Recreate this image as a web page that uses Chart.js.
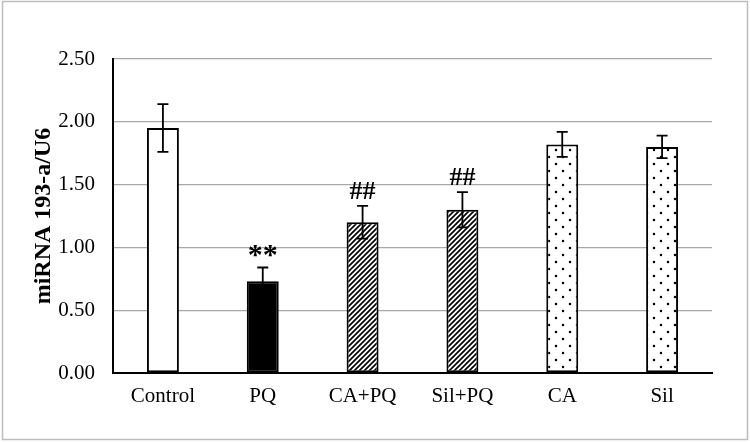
<!DOCTYPE html>
<html><head><meta charset="utf-8">
<script src="https://cdn.jsdelivr.net/npm/chart.js@4.4.0/dist/chart.umd.min.js"></script>
<style>html,body{margin:0;padding:0;background:#fff}#wrap{width:750px;height:442px;position:relative}</style>
</head><body><div id="wrap"><canvas id="c" width="750" height="442"></canvas></div>
<script>
const categories = ['Control', 'PQ', 'CA+PQ', 'Sil+PQ', 'CA', 'Sil'];
const means = [1.95, 0.73, 1.20, 1.30, 1.82, 1.80];
const errors = [0.19, 0.11, 0.13, 0.14, 0.10, 0.09];
const significance = ['', '**', '##', '##', '', ''];
const yTicks = [0, 0.5, 1.0, 1.5, 2.0, 2.5];
const yAxisTitle = 'miRNA 193-a/U6';

function hatchPattern() {
  const s = 5, c = document.createElement('canvas');
  c.width = s; c.height = s;
  const g = c.getContext('2d');
  g.fillStyle = '#fff'; g.fillRect(0, 0, s, s);
  g.strokeStyle = '#000'; g.lineWidth = 1.7;
  g.beginPath();
  g.moveTo(-1, s + 1); g.lineTo(s + 1, -1);
  g.moveTo(-1, 1); g.lineTo(1, -1);
  g.moveTo(s - 1, s + 1); g.lineTo(s + 1, s - 1);
  g.stroke();
  return g.createPattern(c, 'repeat');
}
function dotPattern() {
  const s = 14, c = document.createElement('canvas');
  c.width = s; c.height = s;
  const g = c.getContext('2d');
  g.fillStyle = '#fff'; g.fillRect(0, 0, s, s);
  g.fillStyle = '#000';
  g.beginPath(); g.arc(3, 3, 1.25, 0, Math.PI * 2); g.fill();
  g.beginPath(); g.arc(10, 10, 1.25, 0, Math.PI * 2); g.fill();
  return g.createPattern(c, 'repeat');
}
const hatch = hatchPattern(), dots = dotPattern();
const fills = ['#ffffff', '#000000', hatch, hatch, dots, dots];

const serif = "'Liberation Serif', 'Times New Roman', serif";

const extras = {
  id: 'extras',
  beforeDraw(chart) {
    const ctx = chart.ctx;
    ctx.save(); ctx.fillStyle = '#fff'; ctx.fillRect(0, 0, chart.width, chart.height); ctx.restore();
  },
  afterDatasetsDraw(chart) {
    const ctx = chart.ctx, meta = chart.getDatasetMeta(0), y = chart.scales.y;
    ctx.save();
    ctx.strokeStyle = '#000'; ctx.lineWidth = 1.8;
    meta.data.forEach((bar, i) => {
      const top = y.getPixelForValue(means[i] + errors[i]);
      const bot = y.getPixelForValue(means[i] - errors[i]);
      const half = 5.5;
      ctx.beginPath();
      ctx.moveTo(bar.x, top); ctx.lineTo(bar.x, bot);
      ctx.moveTo(bar.x - half, top); ctx.lineTo(bar.x + half, top);
      ctx.moveTo(bar.x - half, bot); ctx.lineTo(bar.x + half, bot);
      ctx.stroke();
      const label = significance[i];
      if (label) {
        ctx.fillStyle = '#000';
        const isStar = label[0] === '*';
        ctx.font = 'bold ' + (isStar ? 30 : 26) + 'px ' + serif;
        ctx.textAlign = 'center'; ctx.textBaseline = 'alphabetic';
        ctx.fillText(label, bar.x, top - (isStar ? 3 : 7));
      }
    });
    ctx.restore();
  },
  afterDraw(chart) {
    const ctx = chart.ctx;
    ctx.save(); ctx.strokeStyle = '#bdbdbd'; ctx.lineWidth = 1.5;
    ctx.strokeRect(2.5, 1.5, 745, 438);
    ctx.restore();
  }
};

new Chart(document.getElementById('c'), {
  type: 'bar',
  data: {
    labels: categories,
    datasets: [{
      data: means,
      backgroundColor: fills,
      borderColor: '#000',
      borderWidth: 2,
      borderSkipped: false,
      barPercentage: 0.32,
      categoryPercentage: 1.0
    }]
  },
  options: {
    responsive: false,
    animation: false,
    devicePixelRatio: 1,
    layout: { padding: { left: 0, right: 38, top: 59, bottom: 0 } },
    plugins: { legend: { display: false }, tooltip: { enabled: false } },
    scales: {
      x: {
        grid: { display: false, drawTicks: false },
        border: { color: '#000', width: 2 },
        ticks: { color: '#000', font: { family: serif, size: 21 }, padding: 11, maxRotation: 0 },
        afterFit(s) { s.height = 69; }
      },
      y: {
        min: 0, max: 2.5,
        afterBuildTicks(s) { s.ticks = yTicks.map(v => ({ value: v })); },
        grid: { color: '#a8a8a8', lineWidth: 1.3, drawTicks: false },
        border: { color: '#000', width: 2 },
        ticks: { color: '#000', font: { family: serif, size: 21 }, padding: 18, callback: v => Number(v).toFixed(2) },
        title: { display: true, text: yAxisTitle, color: '#000', font: { family: serif, size: 24, weight: 'bold' }, padding: { top: 29, bottom: 0 } },
        afterFit(s) { s.width = 113; }
      }
    }
  },
  plugins: [extras]
});
</script>
</body></html>
